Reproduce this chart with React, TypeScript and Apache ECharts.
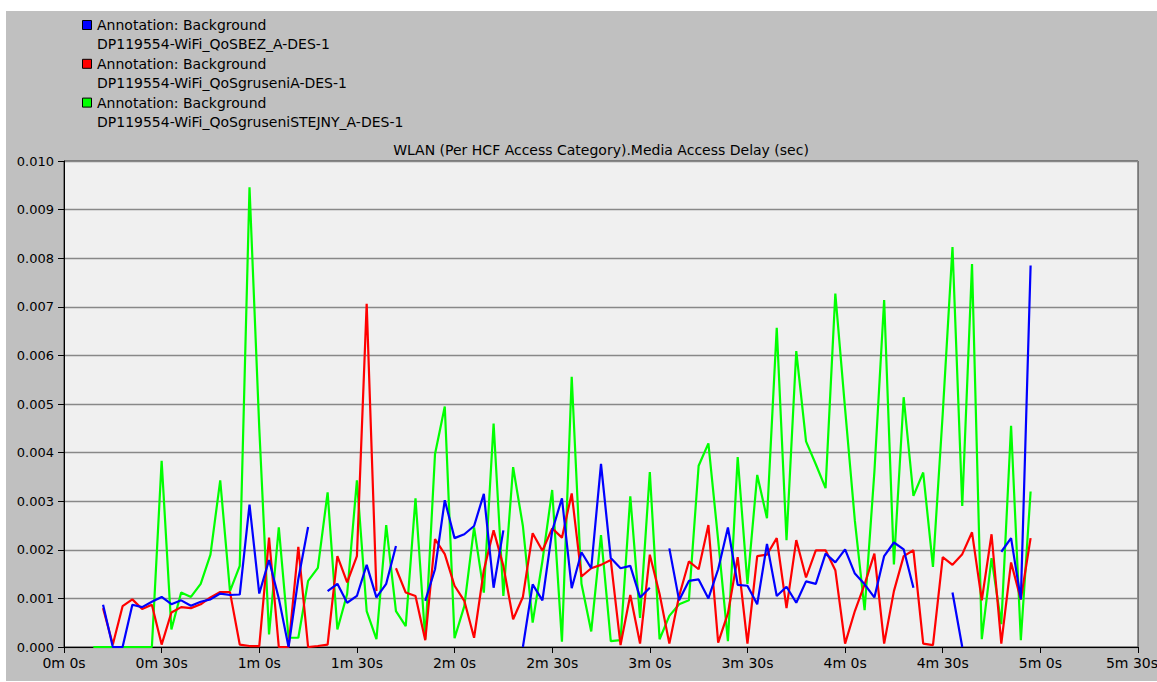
import React, { useEffect, useRef } from "react";
import * as echarts from "echarts";

// sample times (seconds)
const times = [
  9, 12, 15, 18, 21, 24, 27, 30, 33, 36, 39, 42, 45, 48, 51, 54, 57, 60, 63, 66,
  69, 72, 75, 78, 81, 84, 87, 90, 93, 96, 99, 102, 105, 108, 111, 114, 117, 120, 123, 126,
  129, 132, 135, 138, 141, 144, 147, 150, 153, 156, 159, 162, 165, 168, 171, 174, 177, 180, 183, 186,
  189, 192, 195, 198, 201, 204, 207, 210, 213, 216, 219, 222, 225, 228, 231, 234, 237, 240, 243, 246,
  249, 252, 255, 258, 261, 264, 267, 270, 273, 276, 279, 282, 285, 288, 291, 294, 297,
];

// Media access delay (sec)
const greenStejny = [
  0, 0, 0, 0, 0, 0, 0, 0.00383, 0.00036, 0.00112, 0.00103, 0.0013, 0.0019, 0.00343, 0.00115, 0.00167, 0.00946, 0.0045, 0.00026, 0.00246,
  0.00019, 0.00019, 0.00136, 0.00163, 0.00318, 0.00036, 0.00109, 0.00343, 0.00074, 0.00016, 0.00251, 0.00074, 0.00043, 0.00306, 0.00016, 0.00397, 0.00495, 0.00018, 0.00084, 0.00246,
  0.00112, 0.0046, 0.00105, 0.0037, 0.00249, 0.0005, 0.00177, 0.00323, 0.00011, 0.00556, 0.0013, 0.00032, 0.0023, 0.00012, 0.00014, 0.0031, 0.0006, 0.0036, 0.00016, 0.00064,
  0.00088, 0.00096, 0.00373, 0.00419, 0.0022, 0.00012, 0.00391, 0.0013, 0.00354, 0.00265, 0.00657, 0.0022, 0.00609, 0.00423, 0.00376, 0.00327, 0.00727, 0.0049, 0.0026, 0.00076,
  0.0036, 0.00714, 0.0017, 0.00514, 0.00311, 0.00359, 0.00165, 0.0048, 0.00823, 0.0029, 0.00788, 0.00016, 0.00183, 0.00047, 0.00455, 0.00014, 0.0032,
];

const redGruseni = [
  null, 0.0008, 0.00005, 0.00084, 0.00098, 0.00078, 0.00087, 0.00005, 0.00071, 0.00082, 0.0008, 0.00088, 0.00102, 0.00113, 0.00113, 0.00005, 0.00002, 0.00002, 0.00225, 0,
  0, 0.00206, 0, 0.00002, 0.00005, 0.00187, 0.00133, 0.00187, 0.00706, 0.00115, null, 0.00162, 0.00112, 0.00105, 0.00014, 0.00222, 0.00191, 0.00126, 0.00095, 0.00019,
  0.00158, 0.0024, 0.00167, 0.00057, 0.00103, 0.00234, 0.00198, 0.00244, 0.00225, 0.00316, 0.00145, 0.00162, 0.00169, 0.00179, 0.00004, 0.00107, 0.00007, 0.0019, 0.00109, 0.00007,
  0.00105, 0.00176, 0.0016, 0.00251, 0.00009, 0.00069, 0.00185, 0.00007, 0.00187, 0.0019, 0.00224, 0.0008, 0.0022, 0.00143, 0.00199, 0.00199, 0.00158, 0.00007, 0.00074, 0.00129,
  0.00192, 0.00007, 0.00115, 0.00187, 0.00199, 0.00007, 0.00004, 0.00185, 0.00169, 0.00191, 0.00236, 0.00096, 0.00232, 0.00007, 0.00174, 0.00098, 0.00224,
];

const blueBez = [
  null, 0.00087, 0, 0, 0.00087, 0.00082, 0.00093, 0.00103, 0.00088, 0.00096, 0.00085, 0.00093, 0.00098, 0.0011, 0.00107, 0.00108, 0.00293, 0.0011, 0.00179, 0.001,
  0, 0.0014, 0.00247, null, 0.00115, 0.0013, 0.00091, 0.00105, 0.00169, 0.00102, 0.0013, 0.00208, null, null, 0.00095, 0.0016, 0.00302, 0.00224, 0.00232, 0.00249,
  0.00315, 0.00122, 0.0024, null, 0, 0.00129, 0.00096, 0.00239, 0.00306, 0.00121, 0.00195, 0.00162, 0.00377, 0.00183, 0.00162, 0.00167, 0.00102, 0.00122, null, 0.00203,
  0.00096, 0.00136, 0.00139, 0.001, 0.0016, 0.00246, 0.00128, 0.00126, 0.00088, 0.00212, 0.00105, 0.00124, 0.00091, 0.00135, 0.0013, 0.00192, 0.00174, 0.00201, 0.00151, 0.00129,
  0.00102, 0.00187, 0.00215, 0.00201, 0.00122, null, null, null, 0.00112, 0, null, null, null, 0.00196, 0.00224, 0.00098, 0.00785,
];

const legendHead = "Annotation: Background";
const legendNames = [
  "DP119554-WiFi_QoSBEZ_A-DES-1",
  "DP119554-WiFi_QoSgruseniA-DES-1",
  "DP119554-WiFi_QoSgruseniSTEJNY_A-DES-1",
];
const legendColors = ["#0000ff", "#ff0000", "#00ff00"];
const chartTitle = "WLAN (Per HCF Access Category).Media Access Delay (sec)";

const FONT = "'DejaVu Sans', Verdana, sans-serif";
const FS = 14;
const FS_Y = 13;
const X_MAX = 330;

function pairs(vals: (number | null)[]) {
  return times.map((t, i) => [t, vals[i] === null ? null : vals[i]]);
}

function fmtTime(v: number) {
  const m = Math.floor(v / 60);
  const s = Math.round(v - m * 60);
  return `${m}m ${s}s`;
}

export default function App() {
  const ref = useRef<HTMLDivElement>(null);
  useEffect(() => {
    if (!ref.current) return;
    const chart = echarts.init(ref.current, null, { renderer: "svg" });
    const legendGraphics: any[] = [];
    legendNames.forEach((name, i) => {
      const y0 = 14 + i * 38.8;
      legendGraphics.push({
        type: "rect",
        shape: { x: 76.5, y: y0 - 4.5, width: 9, height: 9 },
        style: { fill: legendColors[i], stroke: "#000", lineWidth: 1 },
      });
      legendGraphics.push({
        type: "text",
        x: 91,
        y: y0,
        style: { text: legendHead, font: `${FS}px ${FONT}`, fill: "#000", verticalAlign: "middle" },
      });
      legendGraphics.push({
        type: "text",
        x: 91,
        y: y0 + 19.4,
        style: { text: name, font: `${FS}px ${FONT}`, fill: "#000", verticalAlign: "middle" },
      });
    });
    legendGraphics.push({
      type: "text",
      x: 595,
      y: 139,
      style: {
        text: chartTitle,
        font: `${FS}px ${FONT}`,
        fill: "#000",
        align: "center",
        verticalAlign: "middle",
      },
    });

    const mkSeries = (name: string, vals: (number | null)[], color: string) => ({
      name,
      type: "line",
      data: pairs(vals),
      showSymbol: false,
      symbol: "none",
      connectNulls: false,
      lineStyle: { color, width: 2.2 },
      itemStyle: { color },
    });

    chart.setOption({
      animation: false,
      backgroundColor: "#c0c0c0",
      textStyle: { fontFamily: FONT },
      graphic: legendGraphics,
      grid: {
        left: 58,
        top: 150,
        width: 1074,
        height: 486,
        show: true,
        backgroundColor: "#f0f0f0",
        borderColor: "#303030",
        borderWidth: 1,
        containLabel: false,
        outerBoundsMode: "none",
      },
      xAxis: {
        type: "value",
        min: 0,
        max: X_MAX,
        interval: 30,
        axisLine: { show: true, lineStyle: { color: "#000", width: 1 } },
        axisTick: { show: true, length: 6, inside: false, lineStyle: { color: "#000" } },
        axisLabel: {
          color: "#000",
          fontSize: FS,
          fontFamily: FONT,
          margin: 9,
          hideOverlap: false,
          formatter: (v: number) => (v === X_MAX ? `{last|${fmtTime(v)}}` : fmtTime(v)),
          rich: {
            last: { padding: [0, 12, 0, 0], fontSize: FS, fontFamily: FONT, color: "#000" },
          },
        },
        splitLine: { show: false },
      },
      yAxis: {
        type: "value",
        min: 0,
        max: 0.01,
        interval: 0.001,
        axisLine: { show: true, lineStyle: { color: "#000", width: 1 } },
        axisTick: { show: true, length: 6, inside: false, lineStyle: { color: "#000" } },
        axisLabel: { color: "#000", fontSize: FS_Y, fontFamily: FONT, margin: 10, formatter: (v: number) => v.toFixed(3) },
        splitLine: { show: true, lineStyle: { color: "#888888", width: 1.3 } },
      },
      series: [
        mkSeries(legendNames[2], greenStejny, "#00ff00"),
        mkSeries(legendNames[1], redGruseni, "#ff0000"),
        mkSeries(legendNames[0], blueBez, "#0000ff"),
      ],
    });
    return () => chart.dispose();
  }, []);
  return (
    <div
      ref={ref}
      style={{ position: "fixed", left: 6, top: 11, width: 1151, height: 670 }}
    />
  );
}
